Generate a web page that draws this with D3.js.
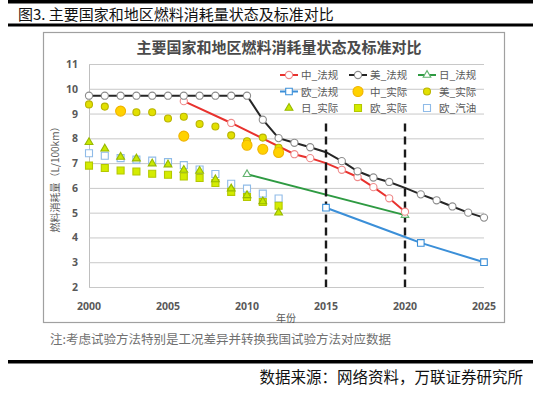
<html>
<head>
<meta charset="utf-8">
<script src="https://d3js.org/d3.v7.min.js"></script>
<style>
  body { margin:0; background:#fff; font-family:"Noto Sans CJK SC", "Noto Sans", sans-serif; }
</style>
</head>
<body>
<svg id="chart" width="545" height="396"></svg>
<script>
// ---- data ----
var actualYears = [2000,2001,2002,2003,2004,2005,2006,2007,2008,2009,2010,2011,2012];

var usRegYears = [2000,2001,2002,2003,2004,2005,2006,2007,2008,2009,2010,2011,2012,2013,2014,2015,2016,2017,2018,2019,2020,2021,2022,2023,2024,2025];
var usReg      = [9.72,9.72,9.72,9.72,9.72,9.72,9.72,9.72,9.72,9.72,9.72,8.75,8.01,7.82,7.64,7.44,7.08,6.67,6.42,6.24,6.0,5.74,5.5,5.25,5.0,4.8];

var cnRegYears = [2006,2009,2013,2014,2015,2016,2017,2018,2019,2020];
var cnReg      = [9.5,8.62,7.36,7.2,7.0,6.73,6.44,6.03,5.58,5.04];

var jpRegYears = [2010,2020];
var jpReg      = [6.55,4.9];

var euRegYears = [2015,2020,2021,2025];
var euReg      = [5.2,4.02,3.78,3.0];

var cnActYears = [2002,2006,2010,2011,2012];
var cnAct      = [9.1,8.09,7.72,7.56,7.43];

var usAct  = [9.37,9.28,9.14,9.05,9.05,8.80,8.87,8.58,8.48,8.12,7.88,8.03,7.62];
var jpAct  = [7.84,7.58,7.25,7.18,6.98,6.94,6.72,6.68,6.34,5.97,5.70,5.45,5.0];
var euAct  = [6.9,6.8,6.7,6.66,6.57,6.53,6.46,6.40,6.2,5.84,5.63,5.43,5.28];
var euGas  = [7.4,7.3,7.2,7.14,7.1,7.04,6.92,6.74,6.56,6.17,5.97,5.77,5.57];

var xTicks = [2000,2005,2010,2015,2020,2025];
var yTicks = [2,3,4,5,6,7,8,9,10,11];
var markYears = [2015,2020];   // dashed reference lines

var pageTitle  = "图3. 主要国家和地区燃料消耗量状态及标准对比";
var chartTitle = "主要国家和地区燃料消耗量状态及标准对比";
var yLabel = "燃料消耗量（L/100km）";
var xLabel = "年份";
var note   = "注:考虑试验方法特别是工况差异并转换我国试验方法对应数据";
var source = "数据来源：网络资料，万联证券研究所";

function zip(xs, ys) { return xs.map(function(x, i){ return {x:x, y:ys[i]}; }); }

var series = [
  {name:"中_法规", pts:zip(cnRegYears,cnReg), line:"#e8322e", shape:"circle", fill:"#fff", stroke:"#ef8a8a", r:3.6, hide:[2015]},
  {name:"美_法规", pts:zip(usRegYears,usReg), line:"#262626", shape:"circle", fill:"#fff", stroke:"#8c8c8c", r:3.6, hide:[2015,2020]},
  {name:"日_法规", pts:zip(jpRegYears,jpReg), line:"#2e9a42", shape:"triangle", fill:"#fff", stroke:"#62b36f", r:3.3, hide:[]},
  {name:"欧_法规", pts:zip(euRegYears,euReg), line:"#3b8fd8", shape:"square", fill:"#fff", stroke:"#3b8fd8", r:3.3, hide:[2020]},
  {name:"中_实际", pts:zip(cnActYears,cnAct), line:null, shape:"circle", fill:"#ffd200", stroke:"#f0b400", r:5, hide:[]},
  {name:"美_实际", pts:zip(actualYears,usAct), line:null, shape:"circle", fill:"#e2e000", stroke:"#b9b400", r:3.5, hide:[]},
  {name:"日_实际", pts:zip(actualYears,jpAct), line:null, shape:"triangle", fill:"#c8e800", stroke:"#98b800", r:3.4, hide:[]},
  {name:"欧_实际", pts:zip(actualYears,euAct), line:null, shape:"square", fill:"#d4ec00", stroke:"#b4c800", r:3.5, hide:[]},
  {name:"欧_汽油", pts:zip(actualYears,euGas), line:null, shape:"square", fill:"#fff", stroke:"#8fbbe8", r:3.5, hide:[]}
];
// draw order: actual points under regulation lines
var drawOrder = [8,7,6,5,4,3,2,0,1];

var svg = d3.select("#chart");

// page header / footer rules
svg.append("rect").attr("x",8).attr("y",0).attr("width",525).attr("height",3.5).attr("fill","#000");
svg.append("text").attr("x",18).attr("y",20).attr("font-size",15).attr("font-weight",400)
  .attr("fill","#111").text(pageTitle);
svg.append("rect").attr("x",8).attr("y",23.5).attr("width",525).attr("height",3).attr("fill","#000");

svg.append("rect").attr("x",43.5).attr("y",32.5).attr("width",461).attr("height",290)
  .attr("fill","none").attr("stroke","#a0a0a0").attr("stroke-width",1.2);

svg.append("text").attr("x",279).attr("y",53).attr("text-anchor","middle")
  .attr("font-size",15).attr("font-weight",700).attr("fill","#4a4a4a").text(chartTitle);

var x = d3.scaleLinear().domain([2000,2025]).range([89,484]);
var y = d3.scaleLinear().domain([2,11]).range([287,64]);

// gridlines
svg.append("g")
  .attr("transform","translate(89,0)")
  .call(d3.axisLeft(y).tickValues(yTicks).tickSize(-(484-89)).tickFormat(""))
  .call(function(g){
    g.select(".domain").attr("stroke","#bfbfbf");
    g.selectAll(".tick line").attr("stroke","#c8c8c8").attr("stroke-width",1);
  });

// y tick labels
svg.append("g").selectAll("text").data(yTicks).enter().append("text")
  .attr("x",78).attr("y",function(d){ return y(d)+4; }).attr("text-anchor","end")
  .attr("font-size",10.5).attr("font-weight",700).attr("fill","#595959")
  .attr("font-family","'Open Sans', sans-serif")
  .text(function(d){ return d; });

// x tick labels
svg.append("g").selectAll("text").data(xTicks).enter().append("text")
  .attr("x",function(d){ return x(d); }).attr("y",310).attr("text-anchor","middle")
  .attr("font-size",10.5).attr("font-weight",700).attr("fill","#595959")
  .attr("font-family","'Open Sans', sans-serif")
  .text(function(d){ return d; });

svg.append("text").attr("x",286).attr("y",322).attr("text-anchor","middle")
  .attr("font-size",10).attr("fill","#595959").text(xLabel);

svg.append("text").attr("transform","translate(59,177) rotate(-90)").attr("text-anchor","middle")
  .attr("font-size",10).attr("fill","#595959").text(yLabel);

// marker shapes
var symbolType = {circle:d3.symbolCircle, triangle:d3.symbolTriangle, square:d3.symbolSquare};
function symbolPath(s) {
  var r = s.r, area;
  if (s.shape === "circle") area = Math.PI*r*r;
  else if (s.shape === "square") area = (2*r)*(2*r);
  else area = r*r*2.3;
  return d3.symbol().type(symbolType[s.shape]).size(area)();
}

var line = d3.line().x(function(d){ return x(d.x); }).y(function(d){ return y(d.y); });

// regulation lines
drawOrder.forEach(function(i){
  var s = series[i];
  if (!s.line) return;
  svg.append("path").datum(s.pts).attr("d",line).attr("fill","none")
    .attr("stroke",s.line).attr("stroke-width",2);
});

// dashed reference years
svg.append("g").selectAll("line").data(markYears).enter().append("line")
  .attr("x1",function(d){ return x(d); }).attr("x2",function(d){ return x(d); })
  .attr("y1",y(8.6)).attr("y2",y(2))
  .attr("stroke","#1a1a1a").attr("stroke-width",2.4).attr("stroke-dasharray","8,5");

// markers
drawOrder.forEach(function(i){
  var s = series[i];
  svg.append("g").selectAll("path")
    .data(s.pts.filter(function(p){ return s.hide.indexOf(p.x) < 0; }))
    .enter().append("path")
    .attr("transform",function(d){ return "translate(" + x(d.x) + "," + y(d.y) + ")"; })
    .attr("d",symbolPath(s)).attr("fill",s.fill).attr("stroke",s.stroke).attr("stroke-width",1.1);
});

// legend, 3 x 3
var legCols = [280, 349, 418];
var legRows = [75, 91.5, 108];
series.forEach(function(s, i){
  var cx = legCols[i % 3], cy = legRows[Math.floor(i / 3)];
  var g = svg.append("g").attr("transform","translate(" + cx + "," + cy + ")");
  if (s.line) {
    g.append("line").attr("x1",0).attr("x2",18).attr("y1",0).attr("y2",0)
      .attr("stroke",s.line).attr("stroke-width",2);
  }
  g.append("path").attr("transform","translate(9,0)").attr("d",symbolPath(s))
    .attr("fill",s.fill).attr("stroke",s.stroke).attr("stroke-width",1.1);
  g.append("text").attr("x",21).attr("y",4).attr("font-size",10.5).attr("fill","#595959").text(s.name);
});

// note and source
svg.append("text").attr("x",50).attr("y",344).attr("font-size",12.5).attr("fill","#707070").text(note);
svg.append("rect").attr("x",8).attr("y",360).attr("width",525).attr("height",3.5).attr("fill","#000");
svg.append("text").attr("x",523).attr("y",383).attr("text-anchor","end").attr("font-size",15.5)
  .attr("font-weight",400).attr("fill","#111").text(source);
</script>
</body>
</html>
